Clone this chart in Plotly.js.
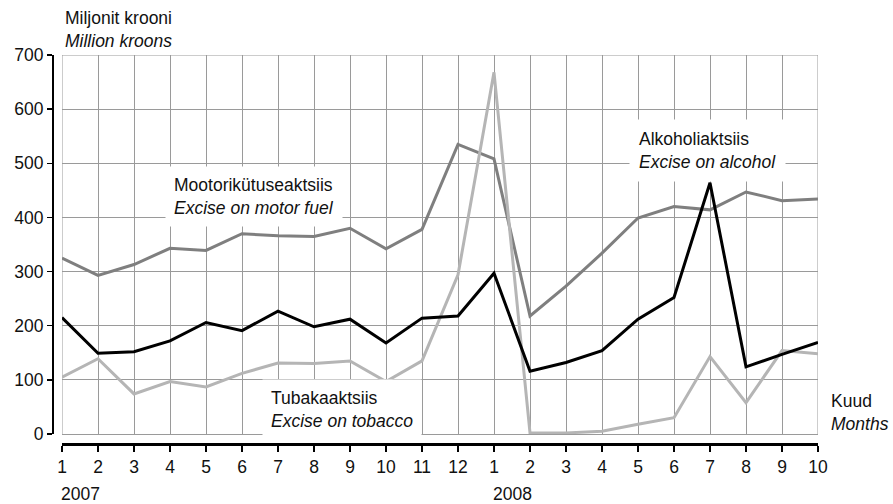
<!DOCTYPE html>
<html>
<head>
<meta charset="utf-8">
<script src="https://cdn.plot.ly/plotly-3.0.1.min.js"></script>
<style>html,body{margin:0;padding:0;background:#fff}#chart{width:893px;height:504px}</style>
</head>
<body>
<div id="chart"></div>
<script>
// Data
var monthLabels = ["1","2","3","4","5","6","7","8","9","10","11","12","1","2","3","4","5","6","7","8","9","10"];
var yearLabels = ["2007", "2008"];
var motorFuel = [325, 293, 313, 343, 339, 370, 366, 365, 380, 342, 378, 535, 508, 218, 273, 334, 399, 420, 414, 447, 431, 434];
var alcohol   = [215, 149, 152, 172, 206, 191, 227, 198, 212, 168, 214, 218, 297, 116, 132, 154, 212, 252, 464, 124, 147, 169];
var tobacco   = [105, 139, 74, 97, 87, 112, 131, 130, 135, 97, 135, 294, 668, 2, 2, 5, 18, 30, 143, 58, 154, 148];

var xIdx = monthLabels.map(function(_, i){ return i; });
var W = 893, H = 504;
function px(x){ return x / W; }
function py(y){ return 1 - y / H; }
var FONT = "Liberation Sans, Arial, Helvetica, sans-serif";
var FS = 17.5;
var GRID = "#9a9a9a";

var traces = [
  {x: xIdx, y: motorFuel, mode: "lines", line: {color: "#7f7f7f", width: 3}, cliponaxis: false, hoverinfo: "skip"},
  {x: xIdx, y: tobacco, mode: "lines", line: {color: "#b5b5b5", width: 3}, cliponaxis: false, hoverinfo: "skip"},
  {x: xIdx, y: alcohol, mode: "lines", line: {color: "#000000", width: 3}, cliponaxis: false, hoverinfo: "skip"}
];

function lbl(text, x, y, opts){
  var a = {text: text, xref: "paper", yref: "paper", x: px(x), y: py(y),
    xanchor: "left", yanchor: "middle", align: "left", showarrow: false,
    font: {family: FONT, size: FS, color: "#111"}};
  for (var k in opts) a[k] = opts[k];
  return a;
}

var annotations = [
  lbl("Miljonit krooni<br><i>Million kroons</i>", 63, 29),
  lbl("Mootorikütuseaktsiis<br><i>Excise on motor fuel</i>", 165, 197, {bgcolor: "#ffffff", borderpad: 8}),
  lbl("Alkoholiaktsiis<br><i>Excise on alcohol</i>", 629, 150, {bgcolor: "#ffffff", borderpad: 9}),
  lbl("Tubakaaktsiis<br><i>Excise on tobacco</i>", 262, 409, {bgcolor: "#ffffff", borderpad: 8}),
  lbl("Kuud<br><i>Months</i>", 829, 412),
  {text: yearLabels[0], xref: "x", yref: "paper", x: 0, y: py(494), xanchor: "left", yanchor: "middle",
   xshift: -3, showarrow: false, font: {family: FONT, size: FS, color: "#111"}},
  {text: yearLabels[1], xref: "x", yref: "paper", x: 12, y: py(494), xanchor: "left", yanchor: "middle",
   xshift: -3, showarrow: false, font: {family: FONT, size: FS, color: "#111"}}
];

var shapes = [
  {type: "line", layer: "below", xref: "x", yref: "y", x0: 0, x1: 21, y0: 700, y1: 700, line: {color: GRID, width: 1}},
  {type: "line", layer: "below", xref: "x", yref: "y", x0: 21, x1: 21, y0: 0, y1: 700, line: {color: GRID, width: 1}},
  {type: "line", layer: "below", xref: "x", yref: "y", x0: 0, x1: 0, y0: 0, y1: 700, line: {color: GRID, width: 1}}
];

var layout = {
  width: W, height: H,
  margin: {l: 0, r: 0, t: 0, b: 0},
  paper_bgcolor: "#fff", plot_bgcolor: "rgba(0,0,0,0)",
  showlegend: false,
  font: {family: FONT, size: FS, color: "#111"},
  xaxis: {
    domain: [px(62), px(818)],
    anchor: "free", position: py(444),
    range: [0, 21],
    tickmode: "array", tickvals: xIdx, ticktext: monthLabels,
    showline: true, linecolor: "#000", linewidth: 3,
    ticks: "outside", ticklen: 6, tickwidth: 1.5, tickcolor: "#000",
    showgrid: true, gridcolor: GRID, gridwidth: 1,
    zeroline: false, fixedrange: true,
    tickfont: {family: FONT, size: FS, color: "#111"}
  },
  yaxis: {
    domain: [py(434), py(55)],
    anchor: "free", position: px(53),
    range: [0, 700], dtick: 100, tick0: 0,
    showline: true, linecolor: "#000", linewidth: 2,
    ticks: "outside", ticklen: 5, tickwidth: 1.5, tickcolor: "#000",
    showgrid: true, gridcolor: GRID, gridwidth: 1,
    zeroline: true, zerolinecolor: GRID, zerolinewidth: 1,
    fixedrange: true,
    tickfont: {family: FONT, size: FS, color: "#111"}
  },
  shapes: shapes,
  annotations: annotations
};

Plotly.newPlot("chart", traces, layout, {displayModeBar: false, staticPlot: true});
</script>
</body>
</html>
